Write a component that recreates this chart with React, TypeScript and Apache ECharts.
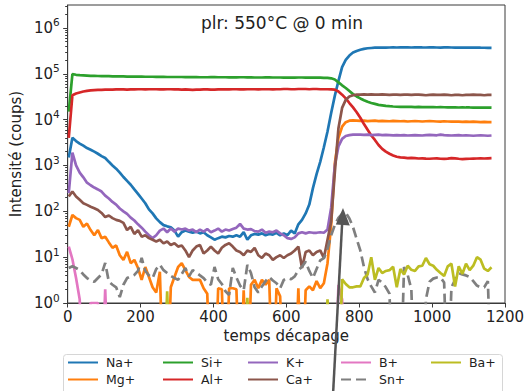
import React, { useEffect, useRef } from 'react';
import * as echarts from 'echarts';

const FONT = "'DejaVu Sans', sans-serif";

// time axis samples (s)
const time = Array.from({ length: 117 }, (_, i) => 3 + 10 * i);

const na = [
  1500, 4000, 3400, 3000, 2700, 2400, 2200, 2000, 1800, 1600,
  1450, 1200, 1000, 850, 700, 560, 460, 380, 300, 240,
  190, 150, 110, 90, 70, 58, 50, 47, 45, 38,
  28, 35, 38, 36, 34, 36, 33, 35, 30, 27,
  24, 26, 28, 27, 29, 28, 30, 28, 35, 24,
  30, 32, 31, 33, 30, 32, 31, 34, 30, 33,
  30, 38, 33, 52, 65, 90, 140, 320, 650, 1200,
  2500, 5500, 14000, 33000, 70000, 140000, 200000, 250000, 290000, 315000,
  335000, 350000, 360000, 365000, 370000, 372000, 373000, 372000, 374000, 375000,
  374000, 375000, 376000, 375000, 374000, 376000, 377000, 375000, 374000, 376000,
  375000, 374000, 373000, 375000, 376000, 374000, 373000, 372000, 374000, 373000,
  372000, 371000, 372000, 370000, 369000, 368000, 367000,
];

const mg = [
  46, 83, 71, 65, 46, 54, 39, 30, 39, 26,
  28, 21, 16, 18, 11, 8.7, 13, 7.4, 8.7, 5.8,
  3.2, 6.1, 3.7, 2.2, 1.7, 4.8, 0, 0, 2.2, 3.7,
  6.1, 7.4, 5.2, 3.7, 3.2, 3.2, 3.2, 2.1, 1.6, 0,
  0, 2.1, 2.0, 0, 2.1, 2.1, 2.0, 0, 1.9, 0,
  2.5, 3.2, 2.1, 3.2, 2.5, 3.2, 0, 2.1, 1.4, 0,
  0, 0, 0, 2.1, 0, 1.9, 2.3, 1.9, 3.0, 2.1,
  2.7, 7.4, 50, 1100, 4000, 7000, 8800, 9500, 9600, 9500,
  9400, 9500, 9300, 9400, 9500, 9300, 9400, 9300, 9200, 9400,
  9300, 9200, 9300, 9100, 9200, 9300, 9200, 9100, 9200, 9300,
  9200, 9100, 9000, 9200, 9100, 9000, 9100, 9000, 8900, 9000,
  8900, 9000, 8900, 8800, 8900, 8800, 8800,
];

const si = [
  15000, 98000, 95000, 93000, 92000, 91000, 90000, 90000, 89500, 89000,
  89000, 88500, 88000, 88000, 87500, 87500, 87000, 87000, 86500, 86500,
  86500, 86000, 86000, 86000, 85500, 85500, 85500, 85000, 85000, 85000,
  85000, 85000, 84500, 84500, 84500, 84500, 84000, 84000, 84000, 84500,
  84500, 84000, 84000, 84000, 83500, 83500, 83500, 84000, 84000, 83500,
  83500, 83000, 83000, 83000, 83500, 83500, 83000, 83000, 83000, 82500,
  82500, 82500, 82500, 83000, 83000, 82500, 82500, 82000, 82000, 82000,
  81500, 81000, 79500, 75000, 65000, 56000, 49000, 42000, 36000, 32000,
  29000, 26500, 24500, 23000, 22000, 21000, 20500, 20000, 19600, 19300,
  19100, 19000, 18900, 19000, 18900, 18800, 18900, 18800, 18700, 18800,
  18700, 18600, 18700, 18600, 18500, 18600, 18500, 18400, 18500, 18400,
  18400, 18300, 18400, 18300, 18200, 18300, 18200,
];

const al = [
  4000, 34000, 37000, 39000, 41000, 42500, 43500, 44000, 44500, 44500,
  45000, 45000, 45000, 45500, 45500, 45500, 45000, 45500, 45500, 46000,
  46000, 45500, 46000, 46000, 46000, 45500, 45500, 46000, 46000, 45500,
  45500, 45000, 45500, 45000, 44500, 45000, 45000, 45500, 45500, 45000,
  45000, 45500, 46000, 45500, 45500, 46000, 46000, 45500, 45500, 46000,
  46000, 46000, 45500, 46000, 46000, 46000, 45500, 46000, 46000, 46500,
  46500, 46000, 46000, 46500, 46500, 46500, 46000, 46500, 46500, 46000,
  46000, 46000, 45500, 45000, 41000, 35000, 29000, 23000, 18500, 14500,
  11000, 8000, 6000, 4500, 3600, 2800, 2300, 2000, 1800, 1650,
  1550, 1500, 1480, 1450, 1460, 1440, 1420, 1430, 1410, 1400,
  1420, 1430, 1400, 1390, 1410, 1450, 1430, 1400, 1380, 1390,
  1400, 1410, 1420, 1430, 1420, 1430, 1440,
];

const k = [
  250, 1900, 1000, 700, 550, 420, 370, 330, 300, 270,
  220, 190, 160, 140, 115, 100, 88, 73, 63, 52,
  44, 36, 30, 26, 30, 38, 42, 35, 42, 36,
  42, 40, 42, 38, 40, 35, 40, 36, 41, 35,
  38, 42, 36, 40, 38, 41, 44, 53, 42, 40,
  41, 37, 36, 40, 34, 36, 35, 38, 33, 30,
  26, 25, 27, 33, 35, 33, 35, 34, 34, 35,
  34, 40, 120, 1000, 2600, 3800, 4400, 4600, 4700, 4700,
  4700, 4650, 4700, 4600, 4650, 4700, 4600, 4650, 4600, 4550,
  4600, 4550, 4600, 4500, 4550, 4600, 4550, 4500, 4600, 4650,
  4600, 4550, 4700, 4600, 4550, 4500, 4550, 4600, 4500, 4550,
  4500, 4450, 4500, 4550, 4500, 4450, 4500,
];

const ca = [
  210, 270, 210, 178, 150, 138, 126, 117, 107, 92,
  75, 81, 71, 65, 62, 56, 39, 46, 32, 39,
  28, 30, 26, 24, 22, 24, 20, 22, 18.5, 20,
  17, 18, 14, 10, 14, 17, 18.5, 12, 14, 17,
  14, 12, 16, 18.5, 20, 17, 14, 13, 11, 14,
  13, 16, 11, 9.6, 12, 11, 8.7, 10, 11, 9.6,
  11, 12, 14, 17, 5.8, 13, 14, 11, 13, 14,
  9.6, 24, 60, 700, 6500, 18000, 27000, 32000, 34000, 35000,
  35000, 35500, 35000, 35500, 35000, 35000, 35500, 35000, 34500, 35000,
  35000, 34500, 35000, 35000, 34500, 35000, 35000, 34500, 34000, 34500,
  35000, 34500, 34500, 35000, 34500, 34000, 34500, 34500, 34000, 34500,
  34500, 35000, 34500, 34500, 34000, 34500, 34500,
];

const b = [
  17, 9, 3.5, 1.2, 0, 0, 1, 1, 1, 0,
  2, 0, 0, 0, 0, 0, 0, 0, 0, 0,
  0, 0, 0, 0, 0, 0, 0, 0, 0, 0,
  0, 0, 0, 0, 0, 0, 0, 0, 0, 0,
  0, 0, 0, 0, 0, 0, 0, 0, 0, 0,
  0, 0, 0, 0, 0, 0, 0, 0, 0, 0,
  0, 0, 0, 0, 0, 0, 0, 0, 0, 0,
  0, 0, 0, 0, 2.5, 1.2, 0, 0, 0, 0,
  0, 0, 0, 0, 0, 0, 0, 0, 0, 0,
  0, 0, 0, 0, 0, 0, 0, 0, 0, 0,
  0, 0, 0, 0, 0, 0, 0, 0, 0, 0,
  0, 0, 0, 0, 0, 0, 0,
];

const sn = [
  5.8, 6.3, 5.8, 5.2, 4.2, 3.5, 3.1, 2.9, 3.5, 4.2,
  7.5, 2.9, 2.5, 2.2, 1.35, 2.5, 3.5, 3.8, 4.1, 5.0,
  9.6, 5.0, 4.0, 3.5, 5.5, 6.8, 5.2, 4.5, 3.9, 3.5,
  3.2, 4.3, 5.8, 3.8, 5.2, 4.6, 4.0, 3.5, 2.8, 2.5,
  6.1, 3.3, 2.6, 1.8, 1.5, 5.8, 3.6, 2.4, 1.9, 6.8,
  4.5, 2.2, 1.7, 2.3, 3.0, 3.7, 3.1, 2.7, 2.1, 3.2,
  3.5, 3.3, 3.8, 5.2, 6.2, 8.0, 5.0, 3.5, 5.5, 8.5,
  9.5, 15, 30, 50, 72, 88, 93, 70, 45, 25,
  14, 6.1, 3.3, 2.3, 1.7, 3.2, 2.8, 2.2, 1.6, 0,
  0, 0, 6.1, 4.1, 2.0, 0, 0, 0, 1.2, 2.9,
  3.4, 3.6, 3.6, 2.8, 0, 2.2, 3.2, 4.5, 4.2, 4.0,
  3.7, 3.0, 2.4, 2.2, 2.2, 3.0, 0,
];

const ba = [
  0, 0, 0, 0, 0, 0, 0, 0, 0, 0,
  0, 0, 0, 0, 0, 0, 0, 0, 0, 0,
  0, 0, 0, 0, 0, 0, 0, 1.8, 0, 0,
  0, 0, 0, 0, 0, 0, 0, 0, 0, 0,
  0, 0, 0, 0, 0, 0, 0, 0, 0, 1.3,
  0, 0, 0, 0, 0, 0, 0, 0, 0, 0,
  0, 0, 0, 0, 0, 0, 0, 0, 0, 0,
  0, 1.2, 0, 0, 0, 3.3, 2.6, 2.2, 2.2, 2.3,
  2.3, 3.5, 4.2, 10, 3.2, 5.8, 4.5, 5.0, 5.2, 6.2,
  2.2, 5.5, 4.2, 6.5, 5.3, 5.0, 6.3, 6.5, 9.6, 7.0,
  6.5, 5.3, 4.5, 3.9, 6.3, 7.2, 2.3, 6.3, 4.3, 7.2,
  5.2, 6.5, 10, 8.8, 5.6, 5.0, 6.0,
];

const seriesDefs = [
  { name: 'Na+', values: na, color: '#1f77b4', dash: 'solid' },
  { name: 'Mg+', values: mg, color: '#ff7f0e', dash: 'solid' },
  { name: 'Si+', values: si, color: '#2ca02c', dash: 'solid' },
  { name: 'Al+', values: al, color: '#d62728', dash: 'solid' },
  { name: 'K+', values: k, color: '#9467bd', dash: 'solid' },
  { name: 'Ca+', values: ca, color: '#8c564b', dash: 'solid' },
  { name: 'B+', values: b, color: '#e377c2', dash: 'solid' },
  { name: 'Sn+', values: sn, color: '#7f7f7f', dash: 'dashed' },
  { name: 'Ba+', values: ba, color: '#bcbd22', dash: 'solid' },
];

const legendColumns = [
  ['Na+', 'Mg+'],
  ['Si+', 'Al+'],
  ['K+', 'Ca+'],
  ['B+', 'Sn+'],
  ['Ba+'],
];
const legendLefts = [67, 162, 247, 340, 430];

const majorTicks = [0, 1, 2, 3, 4, 5, 6];
const minorTicks: number[] = [];
for (let n = 0; n <= 6; n++) {
  for (let m = 2; m <= 9; m++) {
    const v = n + Math.log10(m);
    if (v <= 6.5) minorTicks.push(v);
  }
}

const AXIS_COLOR = '#3a3a3a';
const TEXT_COLOR = '#222';

export default function App() {
  const ref = useRef<HTMLDivElement>(null);
  useEffect(() => {
    if (!ref.current) return;
    const chart = echarts.init(ref.current, null, { renderer: 'svg' });
    const zeroFloor = (v: number) => (v > 0 ? v : 0.01);
    chart.setOption({
      animation: false,
      backgroundColor: '#fff',
      grid: {
        left: 60,
        right: 23,
        top: 5,
        bottom: 88,
        show: true,
        borderColor: AXIS_COLOR,
        borderWidth: 1,
        backgroundColor: 'transparent',
      },
      xAxis: {
        type: 'value',
        min: 0,
        max: 1200,
        interval: 200,
        name: 'temps décapage',
        nameLocation: 'middle',
        nameGap: 24,
        nameTextStyle: { fontSize: 15, color: TEXT_COLOR, fontFamily: FONT },
        axisLine: { show: true, lineStyle: { color: AXIS_COLOR, width: 1 } },
        axisTick: { show: true, length: 4.5, lineStyle: { color: AXIS_COLOR } },
        axisLabel: {
          fontSize: 15,
          color: TEXT_COLOR,
          fontFamily: FONT,
          margin: 6,
          formatter: (v: number) => String(v),
        },
        splitLine: { show: false },
      },
      yAxis: [
        {
          type: 'log',
          logBase: 10,
          min: 1,
          max: 3162278,
          position: 'left',
          name: 'Intensité (coups)',
          nameLocation: 'middle',
          nameGap: 40,
          nameTextStyle: { fontSize: 15, color: TEXT_COLOR, fontFamily: FONT },
          axisLine: { show: true, lineStyle: { color: AXIS_COLOR, width: 1 } },
          axisTick: { show: false },
          minorTick: { show: false },
          splitLine: { show: false },
          axisLabel: {
            margin: 8,
            formatter: (v: number) => {
              const lg = Math.log10(v);
              const r = Math.round(lg);
              if (Math.abs(lg - r) > 1e-6) return '';
              return `{b|10}{s|${r}}`;
            },
            rich: {
              b: { fontSize: 15, fontFamily: FONT, color: TEXT_COLOR, lineHeight: 22 },
              s: { fontSize: 10.5, fontFamily: FONT, color: TEXT_COLOR, lineHeight: 10, verticalAlign: 'top' },
            },
          },
        },
        {
          type: 'value',
          min: 0,
          max: 6.5,
          position: 'left',
          axisLine: { show: false },
          axisLabel: { show: false },
          splitLine: { show: false },
          axisTick: { show: true, length: 4.5, customValues: majorTicks, lineStyle: { color: AXIS_COLOR } },
        },
        {
          type: 'value',
          min: 0,
          max: 6.5,
          position: 'left',
          axisLine: { show: false },
          axisLabel: { show: false },
          splitLine: { show: false },
          axisTick: { show: true, length: 2.5, customValues: minorTicks, lineStyle: { color: AXIS_COLOR } },
        },
      ],
      legend: legendColumns.map((col, i) => ({
        orient: 'vertical',
        left: legendLefts[i],
        top: 356,
        padding: 0,
        itemWidth: 30,
        itemHeight: 14,
        itemGap: 4,
        selectedMode: false,
        itemStyle: { color: 'transparent', borderWidth: 0, borderColor: 'transparent', opacity: 0 },
        textStyle: { fontSize: 12.5, color: TEXT_COLOR, fontFamily: FONT, padding: [0, 0, 0, 3] },
        data: col,
      })),
      series: seriesDefs.map((s) => ({
        name: s.name,
        type: 'line',
        yAxisIndex: 0,
        symbol: 'none',
        showSymbol: false,
        data: time.map((t, i) => [t, zeroFloor(s.values[i])]),
        lineStyle: { width: 2.7, color: s.color, type: s.dash === 'dashed' ? [10, 5] : 'solid' },
        itemStyle: { color: s.color },
        emphasis: { disabled: true },
      })),
      graphic: [
        {
          type: 'rect',
          z: 1,
          shape: { x: 63.5, y: 354.5, width: 439, height: 60, r: 3 },
          style: { fill: '#fff', stroke: '#d6d6d6', lineWidth: 1 },
        },
        {
          type: 'text',
          z: 5,
          x: 282,
          y: 23,
          style: {
            text: 'plr: 550°C @ 0 min',
            font: `17px ${FONT}`,
            fill: TEXT_COLOR,
            textAlign: 'center',
            textVerticalAlign: 'middle',
            align: 'center',
            verticalAlign: 'middle',
          },
        },
        {
          type: 'line',
          z: 100,
          shape: { x1: 333, y1: 395, x2: 342.2, y2: 222 },
          style: { stroke: '#555', lineWidth: 2.5 },
        },
        {
          type: 'polygon',
          z: 100,
          shape: { points: [[343, 208], [349.8, 225.4], [335.8, 224.6]] },
          style: { fill: '#555' },
        },
      ],
    });
    return () => chart.dispose();
  }, []);
  return (
    <div
      ref={ref}
      style={{ position: 'absolute', left: 0, top: 0, width: 528, height: 391 }}
    />
  );
}
